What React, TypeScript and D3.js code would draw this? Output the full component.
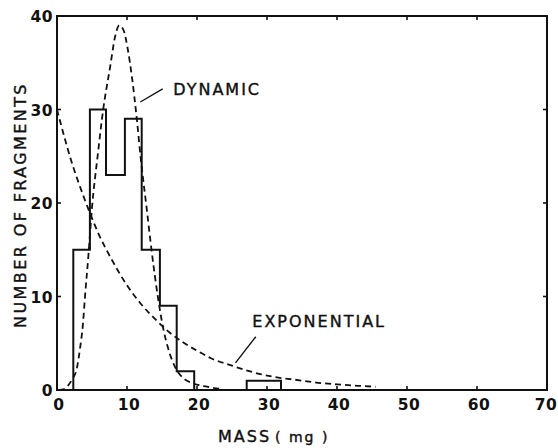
import * as d3 from 'd3';
import { useEffect } from 'react';

// histogram bin edges (mg) and counts between consecutive edges
const binEdges = [2.33, 4.7, 7.0, 9.7, 12.1, 14.7, 17.1, 19.6, 27.1, 29.5, 32.0];
const binCounts = [15, 30, 23, 29, 15, 9, 2, 0, 1, 1];

// dashed "DYNAMIC" model curve
const dynX = [0.3, 1.0, 1.6, 2.2, 2.8, 3.3, 3.7, 4.0, 4.5, 5.0, 5.8, 6.6, 7.6, 8.3, 8.9, 9.5, 10.1, 10.7, 11.4, 12.0, 12.8, 13.5, 14.4, 15.2, 15.9, 16.9, 18.0, 19.5, 21.4, 23.5];
const dynY = [0, 0.1, 0.5, 1.2, 2.2, 4.5, 7, 10, 14.5, 19.5, 25, 30, 34.6, 37.8, 39, 38.5, 36.5, 33.5, 29, 24.5, 19.5, 15, 10, 6.5, 4.4, 2.4, 1.3, 0.7, 0.35, 0.1];

// dashed "EXPONENTIAL" model curve
const expX = [0, 2, 4, 6, 8, 10, 12, 14, 16, 18, 20, 22, 25, 28, 31, 34, 37, 40, 43, 45.5];
const expY = [30, 24.6, 20.3, 16.6, 13.7, 11.2, 9.2, 7.6, 6.2, 5.1, 4.2, 3.4, 2.6, 1.9, 1.4, 1.1, 0.8, 0.6, 0.45, 0.35];

const xTicks = [0, 10, 20, 30, 40, 50, 60, 70];
const yTicks = [0, 10, 20, 30, 40];

const W = 558;
const H = 448;
const font = '"DejaVu Sans", sans-serif';

export default function App() {
  useEffect(() => {
    document.body.style.margin = '0';
  }, []);

  const x = d3.scaleLinear().domain([0, 70]).range([57, 547]);
  const y = d3.scaleLinear().domain([0, 40]).range([390, 16]);

  const histPts: [number, number][] = [[0, 0]];
  binCounts.forEach((c, i) => histPts.push([binEdges[i], c]));
  histPts.push([binEdges[binEdges.length - 1], 0]);
  const step = d3.line<[number, number]>()
    .x(d => x(d[0]))
    .y(d => y(d[1]))
    .curve(d3.curveStepAfter);

  const dynPath = d3.line<number>().curve(d3.curveMonotoneX)
    .x((_, i) => x(dynX[i])).y(d => y(d))(dynY);
  const expPath = d3.line<number>().curve(d3.curveMonotoneX)
    .x((_, i) => x(expX[i])).y(d => y(d))(expY);

  const tick = 4;

  return (
    <svg width={W} height={H} style={{ display: 'block', background: '#fff' }}>
      {/* frame */}
      <rect x={x(0)} y={y(40)} width={x(70) - x(0)} height={y(0) - y(40)}
        fill="none" stroke="#111" strokeWidth={2} />

      {/* inward ticks */}
      {xTicks.slice(1, -1).map(t => (
        <g key={'xt' + t} stroke="#111" strokeWidth={1.6}>
          <line x1={x(t)} x2={x(t)} y1={y(0)} y2={y(0) - tick} />
          <line x1={x(t)} x2={x(t)} y1={y(40)} y2={y(40) + tick} />
        </g>
      ))}
      {yTicks.slice(1, -1).map(t => (
        <g key={'yt' + t} stroke="#111" strokeWidth={1.6}>
          <line x1={x(0)} x2={x(0) + tick} y1={y(t)} y2={y(t)} />
          <line x1={x(70)} x2={x(70) - tick} y1={y(t)} y2={y(t)} />
        </g>
      ))}

      {/* tick labels */}
      {xTicks.map(t => (
        <text key={'xl' + t} x={Math.min(x(t) + 2, W - 12)} y={y(0) + 20} textAnchor="middle"
          fontFamily={font} fontSize={15.5} fontWeight="bold" letterSpacing={0.5} fill="#111">{t}</text>
      ))}
      {yTicks.map(t => (
        <text key={'yl' + t} x={x(0) - 4} y={y(t) + 6} textAnchor="end"
          fontFamily={font} fontSize={15.5} fontWeight="bold" letterSpacing={0.5} fill="#111">{t}</text>
      ))}

      {/* histogram */}
      <path d={step(histPts) ?? ''} fill="none" stroke="#111" strokeWidth={2} />

      {/* model curves */}
      <path d={dynPath ?? ''} fill="none" stroke="#111" strokeWidth={1.8} strokeDasharray="6,4" />
      <path d={expPath ?? ''} fill="none" stroke="#111" strokeWidth={1.8} strokeDasharray="6,4" />

      {/* annotations */}
      <line x1={x(11.9)} y1={y(30.8)} x2={x(15.1)} y2={y(32.2)} stroke="#111" strokeWidth={1.4} />
      <text x={x(16.6)} y={y(31.55)} fontFamily={font} fontSize={16} letterSpacing={2}
        fill="#111" stroke="#111" strokeWidth={0.4}>DYNAMIC</text>
      <line x1={x(25.5)} y1={y(2.9)} x2={x(28.4)} y2={y(5.7)} stroke="#111" strokeWidth={1.4} />
      <text x={x(27.9)} y={y(6.7)} fontFamily={font} fontSize={16} letterSpacing={2}
        fill="#111" stroke="#111" strokeWidth={0.4}>EXPONENTIAL</text>

      {/* axis titles */}
      <text x={218} y={442} fontFamily={font} fontSize={16} letterSpacing={2}
        fill="#111" stroke="#111" strokeWidth={0.4}>MASS<tspan fontSize={14} dx={4}>( mg )</tspan></text>
      <text transform={`translate(26, ${(y(0) + y(40)) / 2 + 2}) rotate(-90)`} textAnchor="middle"
        fontFamily={font} fontSize={16} letterSpacing={2.4}
        fill="#111" stroke="#111" strokeWidth={0.4}>NUMBER  OF  FRAGMENTS</text>
    </svg>
  );
}
